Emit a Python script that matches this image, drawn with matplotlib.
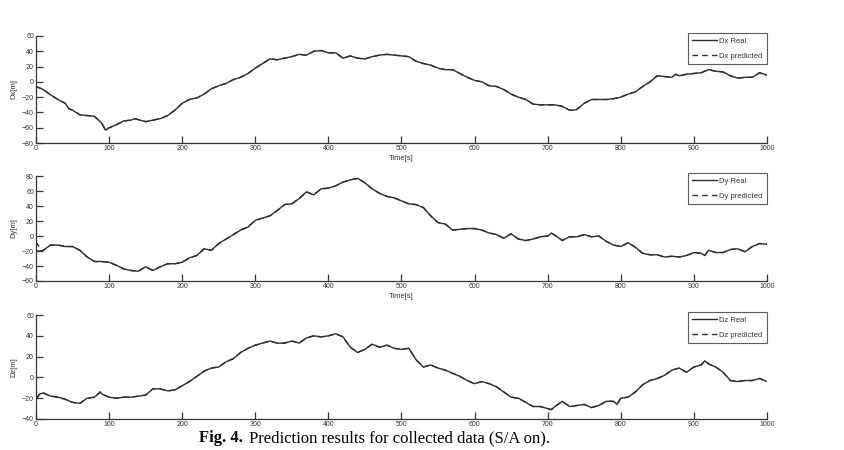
import matplotlib
import matplotlib.pyplot as plt

matplotlib.use('Agg')

# time stamps [s] and read-off values [m]
t_x = [0, 10, 20, 30, 40, 45, 50, 60, 70, 80, 90, 95, 100, 110, 120, 130, 135,
       150, 160, 170, 180, 190, 200, 210, 220, 230, 240, 250, 260, 270, 280,
       290, 300, 310, 320, 330, 340, 350, 360, 370, 380, 390, 400, 410, 420,
       430, 440, 450, 460, 470, 480, 490, 500, 510, 520, 530, 540, 550, 560,
       570, 580, 590, 600, 610, 620, 630, 640, 650, 660, 670, 680, 690, 700,
       710, 720, 730, 735, 740, 750, 760, 770, 780, 790, 800, 810, 820, 830,
       840, 850, 860, 870, 875, 880, 890, 900, 910, 920, 930, 940, 950, 960,
       970, 980, 990, 1000]
dx_real = [-6, -10, -17, -23, -28, -35, -37, -43, -44, -45, -54, -63, -60, -56,
           -51, -50, -48, -52, -50, -48, -44, -37, -28, -23, -21, -16, -9, -5,
           -2, 3, 6, 11, 18, 24, 30, 29, 31, 33, 36, 35, 40, 41, 38, 38, 31, 34,
           31, 30, 33, 35, 36, 35, 34, 33, 27, 24, 22, 18, 16, 16, 11, 6, 2, 0,
           -5, -6, -10, -16, -20, -23, -29, -30, -30, -30, -32, -37, -37, -36,
           -28, -23, -23, -23, -22, -20, -16, -13, -6, 0, 8, 7, 6, 10, 8, 10,
           11, 12, 16, 14, 13, 8, 5, 6, 6, 12, 9]
dx_pred = dx_real

t_y = [0, 8, 10, 20, 30, 40, 50, 60, 70, 80, 90, 100, 110, 120, 130, 140, 150,
       160, 170, 180, 190, 200, 210, 220, 230, 240, 250, 260, 270, 280, 290,
       300, 310, 320, 330, 340, 350, 360, 370, 380, 390, 400, 410, 420, 430,
       440, 450, 460, 470, 480, 490, 500, 510, 520, 530, 540, 550, 560, 570,
       580, 590, 600, 610, 620, 630, 640, 650, 660, 670, 680, 690, 700, 705,
       710, 720, 730, 740, 750, 760, 770, 780, 790, 800, 810, 820, 830, 840,
       850, 860, 870, 880, 890, 900, 910, 915, 920, 930, 940, 950, 960, 970,
       980, 990, 1000]
dy_real = [-20, -20, -19, -12, -12, -14, -14, -19, -28, -34, -34, -35, -39, -44,
           -46, -47, -41, -46, -41, -37, -37, -35, -29, -26, -17, -19, -10, -4,
           2, 8, 12, 21, 24, 27, 34, 42, 43, 50, 59, 55, 63, 64, 67, 72, 75, 77,
           71, 63, 57, 53, 51, 47, 43, 42, 38, 27, 18, 16, 8, 9, 10, 10, 8, 4, 2,
           -3, 3, -4, -6, -4, -1, 0, 4, 1, -6, -1, -1, 2, -1, 0, -7, -12, -14,
           -9, -15, -23, -25, -25, -28, -27, -28, -26, -22, -23, -26, -19, -22,
           -22, -18, -17, -21, -14, -10, -11]
dy_pred = [-8] + dy_real[1:]

t_z = [0, 5, 10, 20, 30, 40, 50, 60, 70, 80, 88, 90, 100, 110, 120, 130, 140,
       150, 160, 170, 180, 190, 200, 210, 220, 230, 240, 250, 260, 270, 280,
       290, 300, 310, 320, 330, 340, 350, 360, 370, 380, 390, 400, 410, 420,
       430, 440, 450, 460, 470, 480, 490, 500, 510, 520, 530, 540, 550, 560,
       570, 580, 590, 600, 610, 620, 630, 640, 650, 660, 670, 680, 690, 700,
       705, 710, 720, 730, 740, 750, 760, 770, 780, 790, 795, 800, 810, 820,
       830, 840, 850, 860, 870, 880, 890, 900, 910, 915, 920, 930, 940, 950,
       960, 970, 980, 990, 1000]
dz_real = [-21, -16, -15, -18, -19, -21, -24, -25, -20, -19, -14, -16, -19, -20,
           -19, -19, -18, -17, -11, -11, -13, -12, -8, -4, 1, 6, 9, 10, 15, 18,
           24, 28, 31, 33, 35, 33, 33, 35, 33, 38, 40, 39, 40, 42, 39, 29, 24,
           27, 32, 29, 31, 28, 27, 28, 17, 10, 12, 9, 7, 4, 1, -3, -6, -4, -6,
           -9, -14, -19, -20, -24, -28, -28, -30, -31, -28, -23, -28, -27, -26,
           -29, -27, -23, -23, -26, -20, -19, -14, -7, -3, -1, 2, 7, 9, 5, 10,
           12, 16, 13, 10, 5, -3, -4, -3, -3, -1, -4]
dz_pred = dz_real

panels = [
    (t_x, dx_real, dx_pred, "Dx", (-80, 60), range(-80, 61, 20), True),
    (t_y, dy_real, dy_pred, "Dy", (-60, 80), range(-60, 81, 20), True),
    (t_z, dz_real, dz_pred, "Dz", (-40, 60), range(-40, 61, 20), False),
]
positions = [
    [0.0426, 0.682, 0.865, 0.238],
    [0.0426, 0.3756, 0.865, 0.233],
    [0.0426, 0.0689, 0.865, 0.231],
]

plt.rcParams['font.family'] = 'Liberation Sans'
line_col = '#2e2e2e'

fig = plt.figure(figsize=(8.45, 4.5), dpi=100)

for (t, real, pred, name, ylim, yticks, has_xlabel), pos in zip(panels, positions):
    ax = fig.add_axes(pos)
    ax.plot(t, real, color=line_col, linewidth=1.0, label=f"{name} Real")
    ax.plot(t, pred, color=line_col, linewidth=1.0, linestyle=(0, (4, 3)),
            label=f"{name} predicted")
    ax.set_xlim(0, 1000)
    ax.set_ylim(*ylim)
    ax.set_xticks(range(0, 1001, 100))
    ax.set_yticks(list(yticks))
    ax.spines['top'].set_visible(False)
    ax.spines['right'].set_visible(False)
    for s in ('left', 'bottom'):
        ax.spines[s].set_linewidth(0.9)
        ax.spines[s].set_color('#333333')
    ax.tick_params(direction='in', length=5, width=0.9, labelsize=5,
                   colors='#333333', pad=1.5)
    ax.set_ylabel(f"{name}[m]", fontsize=5.5, color='#333333', labelpad=3)
    if has_xlabel:
        ax.set_xlabel("Time[s]", fontsize=5.5, color='#333333', labelpad=2)
    leg = ax.legend(loc='upper right', bbox_to_anchor=(1.0, 1.03),
                    fontsize=5.5, frameon=True, fancybox=False,
                    handlelength=3.2, handletextpad=0.3, borderpad=0.6,
                    labelspacing=1.0, borderaxespad=0.0)
    leg.get_frame().set_edgecolor('#333333')
    leg.get_frame().set_linewidth(0.8)
    for txt in leg.get_texts():
        txt.set_color('#333333')

cap_y = 1 - 430 / 450
cap1 = fig.text(199 / 845, cap_y, "Fig. 4.", family='Liberation Serif',
                fontsize=12, fontweight='bold', va='top', ha='left')
fig.canvas.draw()
bb = cap1.get_window_extent()
fig.text((bb.x1 + 6) / fig.bbox.width, cap_y,
         "Prediction results for collected data (S/A on).",
         family='Liberation Serif', fontsize=12, va='top', ha='left')

fig.savefig("out.png", dpi=100)
